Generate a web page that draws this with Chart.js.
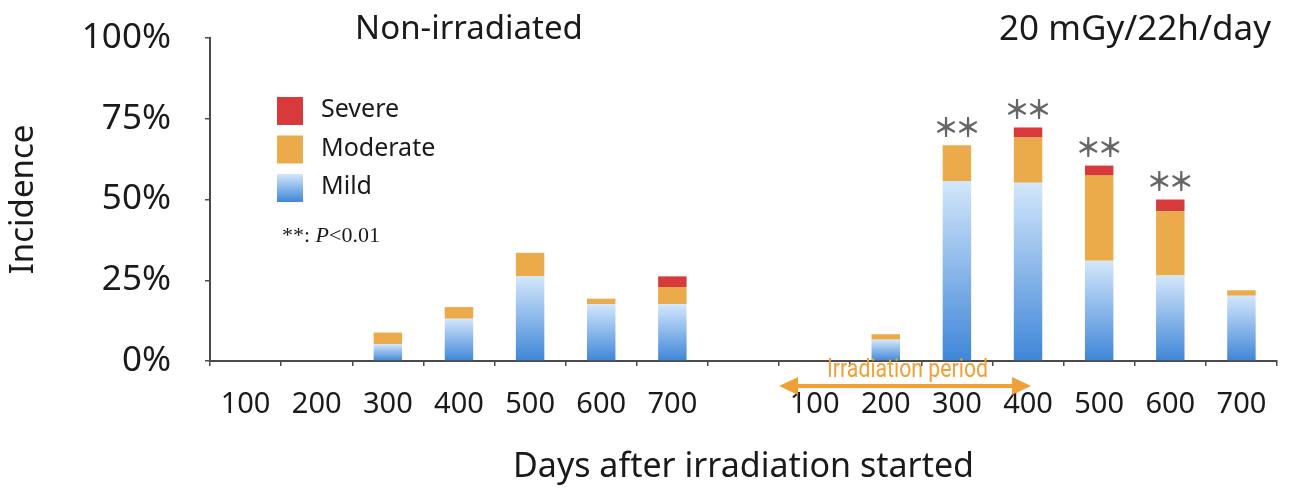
<!DOCTYPE html>
<html>
<head>
<meta charset="utf-8">
<script src="https://cdn.jsdelivr.net/npm/chart.js@4.4.1/dist/chart.umd.min.js"></script>
<style>
  html, body { margin: 0; padding: 0; background: #fff; }
  #wrap { width: 1290px; height: 488px; position: relative; }
</style>
</head>
<body>
<div id="wrap"><canvas id="c"></canvas></div>
<script>
// Incidence by severity, non-irradiated vs 20 mGy/22h/day, per 100-day bin.
// Index 7 is an empty spacer slot between the two groups.
const dayLabels = ["100", "200", "300", "400", "500", "600", "700", "",
                   "100", "200", "300", "400", "500", "600", "700"];
const mild     = [0, 0, 5.2, 13.1, 26.2, 17.6, 17.6, null, 0, 6.6, 55.7, 55.2, 31.0, 26.5, 20.2];
const moderate = [0, 0, 3.6, 3.6, 7.3, 1.7, 5.3, null, 0, 1.7, 11.1, 14.0, 26.4, 19.9, 1.7];
const severe   = [0, 0, 0, 0, 0, 0, 3.3, null, 0, 0, 0, 3.1, 3.1, 3.6, 0];
const significant = [false, false, false, false, false, false, false, false,
                     false, false, true, true, true, true, false];
const yTicks = [0, 25, 50, 75, 100];
// irradiation period runs from the start of the first irradiated bin to day 400
const irradiationFrom = 8;
const irradiationTo = 11;

const FONT = '"Noto Sans", "Open Sans", sans-serif';
const INK = "#1a1a1a";
const AXIS = "#4a4a4a";
const RED = "#d8393a";
const ORANGE = "#ecab4a";
const ARROW = "#f0a038";
const MILD_TOP = "#d3e7fb";
const MILD_BOT = "#3f86d8";

function mildGradient(ctx, top, bottom) {
  const g = ctx.createLinearGradient(0, top, 0, bottom);
  g.addColorStop(0, MILD_TOP);
  g.addColorStop(1, MILD_BOT);
  return g;
}

function mildFill(context) {
  const { chart, parsed } = context;
  const y = chart.scales.y;
  if (!parsed || !y) return "#8dbdf0";
  const top = y.getPixelForValue(parsed.y);
  const bottom = y.getPixelForValue(0);
  if (!isFinite(top) || !isFinite(bottom) || top === bottom) return "#8dbdf0";
  return mildGradient(chart.ctx, top, bottom);
}

/** Titles, inset legend, significance stars and the irradiation-period arrow. */
const annotations = {
  id: "annotations",
  afterDraw(chart) {
    const { ctx } = chart;
    const x = chart.scales.x;
    const meta = chart.getDatasetMeta(2);
    ctx.save();

    // panel titles
    ctx.fillStyle = INK;
    ctx.textBaseline = "middle";
    ctx.font = `33px ${FONT}`;
    ctx.textAlign = "center";
    ctx.fillText("Non-irradiated", 469, 30);
    ctx.textAlign = "right";
    ctx.font = `35px ${FONT}`;
    ctx.fillText("20 mGy/22h/day", 1271, 30);

    // legend, top to bottom: Severe, Moderate, Mild
    const items = [
      { label: "Severe", fill: RED },
      { label: "Moderate", fill: ORANGE },
      { label: "Mild", fill: null },
    ];
    ctx.textAlign = "left";
    ctx.font = `25px ${FONT}`;
    items.forEach((it, i) => {
      const top = 97 + i * 38.5;
      ctx.fillStyle = it.fill || mildGradient(ctx, top, top + 28);
      ctx.fillRect(277, top, 26, 28);
      ctx.fillStyle = INK;
      ctx.fillText(it.label, 321, top + 13);
    });

    // p-value note
    ctx.font = `22px "Liberation Serif", serif`;
    ctx.fillStyle = INK;
    let px = 282;
    ctx.fillText("**: ", px, 236);
    px += ctx.measureText("**: ").width;
    ctx.font = `italic 22px "Liberation Serif", serif`;
    ctx.fillText("P", px, 236);
    px += ctx.measureText("P").width;
    ctx.font = `22px "Liberation Serif", serif`;
    ctx.fillText("<0.01", px, 236);

    // significance stars above the stacks
    ctx.fillStyle = "#666";
    ctx.textAlign = "center";
    ctx.font = `bold 26px "Noto Sans CJK JP", ${FONT}`;
    ctx.letterSpacing = "-4px";
    significant.forEach((s, i) => {
      if (!s) return;
      const total = (mild[i] || 0) + (moderate[i] || 0) + (severe[i] || 0);
      const top = chart.scales.y.getPixelForValue(total);
      ctx.fillText("＊＊", meta.data[i].x - 2, top - 18);
    });
    ctx.letterSpacing = "0px";

    // irradiation period arrow
    const half = (x.getPixelForValue(1) - x.getPixelForValue(0)) / 2;
    const x0 = x.getPixelForValue(irradiationFrom) - half;
    const x1 = x.getPixelForValue(irradiationTo);
    const ay = 386;
    ctx.strokeStyle = ARROW;
    ctx.fillStyle = ARROW;
    ctx.lineWidth = 4;
    ctx.beginPath();
    ctx.moveTo(x0 + 10, ay);
    ctx.lineTo(x1 - 10, ay);
    ctx.stroke();
    ctx.beginPath();
    ctx.moveTo(x0, ay);
    ctx.lineTo(x0 + 19, ay - 9);
    ctx.lineTo(x0 + 19, ay + 9);
    ctx.closePath();
    ctx.fill();
    ctx.beginPath();
    ctx.moveTo(x1 + 3, ay);
    ctx.lineTo(x1 - 16, ay - 9);
    ctx.lineTo(x1 - 16, ay + 9);
    ctx.closePath();
    ctx.fill();
    // condensed label
    ctx.font = `25px "Roboto", sans-serif`;
    ctx.textAlign = "center";
    ctx.translate((x0 + x1) / 2 + 4, 371);
    ctx.scale(0.85, 1);
    ctx.fillText("Irradiation period", 0, 0);

    ctx.restore();
  },
};

new Chart(document.getElementById("c"), {
  type: "bar",
  data: {
    labels: dayLabels,
    datasets: [
      { label: "Mild", data: mild, backgroundColor: mildFill },
      { label: "Moderate", data: moderate, backgroundColor: ORANGE },
      { label: "Severe", data: severe, backgroundColor: RED },
    ],
  },
  options: {
    responsive: true,
    maintainAspectRatio: false,
    animation: false,
    layout: { padding: { left: 0, right: 13, top: 38, bottom: 0 } },
    datasets: { bar: { categoryPercentage: 1, barPercentage: 0.4, borderWidth: 0 } },
    plugins: { legend: { display: false }, tooltip: { enabled: false } },
    scales: {
      x: {
        stacked: true,
        grid: { offset: true, drawOnChartArea: false, drawTicks: true, tickLength: 5, color: AXIS, lineWidth: 1.5 },
        border: { color: AXIS, width: 2 },
        ticks: { font: { family: FONT, size: 29 }, color: INK, padding: 21, maxRotation: 0, autoSkip: false },
        title: {
          display: true,
          text: "Days after irradiation started",
          font: { family: FONT, size: 34 },
          color: INK,
          padding: { top: 0, bottom: 0 },
        },
        afterFit(scale) { scale.height = 127; },
      },
      y: {
        stacked: true,
        min: 0,
        max: 100,
        afterBuildTicks(scale) { scale.ticks = yTicks.map((v) => ({ value: v })); },
        grid: { drawOnChartArea: false, drawTicks: true, tickLength: 5, color: AXIS, lineWidth: 1.5 },
        border: { color: AXIS, width: 2 },
        ticks: {
          font: { family: FONT, size: 35 },
          color: INK,
          padding: 34,
          callback: (v) => v + "%",
        },
        title: {
          display: true,
          text: "Incidence",
          font: { family: FONT, size: 33 },
          color: INK,
          padding: { top: 4, bottom: 0 },
        },
        afterFit(scale) {
          scale.width = 210;
          scale.paddingTop = 0;
          scale.paddingBottom = 0;
        },
      },
    },
  },
  plugins: [annotations],
});
</script>
</body>
</html>
